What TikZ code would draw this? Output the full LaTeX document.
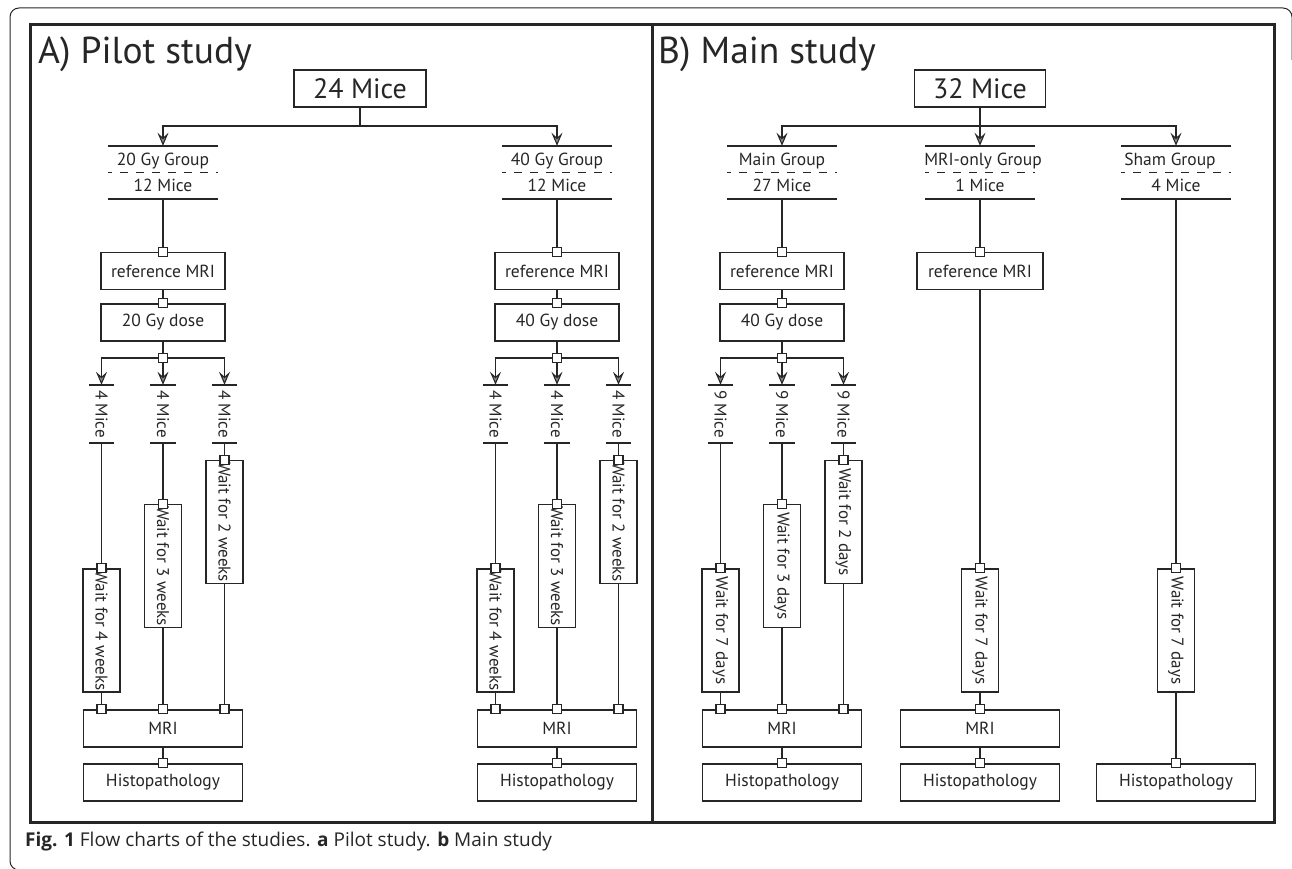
\documentclass[tikz,border=0pt]{standalone}
\usepackage{fontspec}
\setmainfont{PT Sans}
\newfontfamily\capfont{Open Sans}
\usetikzlibrary{arrows.meta}
\definecolor{lc}{HTML}{262626}
\definecolor{ag}{HTML}{8C8C8C}
\newcommand\fsz[1]{\fontsize{#1}{#1}\selectfont}
\tikzset{
  conn/.style={draw=lc, line width=1.7pt},
  arr/.style={conn, -{Stealth[length=13pt,width=11pt,inset=5pt,fill=ag,line width=1.1pt]}},
  box/.style={draw=lc, line width=1.7pt, fill=white, inner sep=0pt, minimum height=37pt, font=\fsz{17.5}, text=lc},
  sq/.style={draw=lc, line width=1.3pt, fill=white, minimum size=9pt, inner sep=0pt},
  lbl/.style={font=\fsz{17.5}, text=lc, inner sep=0pt},
  vlbl/.style={lbl, font=\fsz{17}, rotate=-90},
  frame/.style={inner sep=0pt, minimum width=25pt, minimum height=58pt},
  hdrfr/.style={inner sep=0pt, minimum height=53pt},
  tick/.style={draw=lc, line width=1.7pt},
  dsh/.style={draw=lc, line width=1.7pt, dash pattern=on 8pt off 8pt, dash phase=4pt},
}
\newcommand\hdr[5]{%
  \node[hdrfr, minimum width=110pt] (#1h) at (#2,172.5) {};
  \node[lbl, anchor=base] (#1hn) at ({#2+#5},166) {#3};
  \node[lbl, anchor=base] (#1hc) at (#2,191) {#4};
  \draw[tick] (#1h.north west) -- (#1h.north east);
  \draw[dsh] (#1h.west) -- (#1h.east);
  \draw[tick] (#1h.south west) -- (#1h.south east);
}
\newcommand\trigrp[9]{%
  \hdr{#1}{#2}{#3}{#4}{0}
  \node[box, minimum width=124pt] (#1ref) at (#2,271) {reference MRI};
  \draw[conn] (#1h.south) -- (#1ref.north);
  \node[sq] (#1q0) at (#1ref.north) {};
  \node[box, minimum width=124pt] (#1dose) at (#2,322.5) {#5};
  \draw[conn] (#1ref.south) -- (#1dose.north);
  \node[sq] (#1q1) at (#1dose.north) {};
  \coordinate (#1sp) at (#2,358);
  \draw[conn] (#1dose.south) -- (#1sp);
  \node[box, minimum width=159pt] (#1mri) at (#2,728.5) {MRI};
  \node[box, minimum width=159pt] (#1his) at (#2,782.5) {Histopathology};
  \foreach \i/\dx/\wy/\wt in {1/-61.5/630.5/{#7},2/0/566/{#8},3/61.5/522/{#9}} {
    \node[frame] (#1k\i) at ({#2+\dx},414) {};
    \node[vlbl] (#1t\i) at (#1k\i) {#6};
    \draw[tick] (#1k\i.north west) -- (#1k\i.north east);
    \draw[tick] (#1k\i.south west) -- (#1k\i.south east);
    \draw[arr] (#1sp) -| (#1k\i.north);
    \node[box, minimum width=37pt, minimum height=123pt] (#1w\i) at ({#2+\dx},\wy) {};
    \node[vlbl] (#1wt\i) at (#1w\i) {\wt};
    \draw[conn] (#1k\i.south) -- (#1w\i.north);
    \node[sq] (#1wq\i) at (#1w\i.north) {};
    \draw[conn] (#1w\i.south) -- (#1w\i.south |- #1mri.north);
    \node[sq] (#1mq\i) at (#1w\i.south |- #1mri.north) {};
  }
  \node[sq] (#1sq) at (#1sp) {};
  \draw[conn] (#1mri.south) -- (#1his.north);
  \node[sq] (#1hq) at (#1his.north) {};
}
\begin{document}
\begin{tikzpicture}[x=1pt,y=-1pt]
\useasboundingbox (0,0) rectangle (1292,869);
\begin{scope}
  \clip (0,0) rectangle (1292,869);
  \draw[lc, line width=1pt, rounded corners=9pt] (60,870) -- (10,870) -- (10,8) -- (1292,8) -- (1292,60);
\end{scope}
\draw[lc, line width=3pt] (30,25) rectangle (1274,822);
\draw[lc, line width=3pt] (652,25) -- (652,822);
% titles
\node[anchor=base west, font=\fsz{37.5}, text=lc, inner sep=0pt] (ta) at (38,64) {A) Pilot study};
\node[anchor=base west, font=\fsz{37.5}, text=lc, inner sep=0pt] (tb) at (658,64) {B) Main study};
% top boxes
\node[box, minimum width=132pt, font=\fsz{28}] (m24) at (360,88.5) {24 Mice};
\node[box, minimum width=131pt, font=\fsz{28}] (m32) at (980,88.5) {32 Mice};
% pilot groups
\trigrp{a}{163}{20 Gy Group}{12 Mice}{20 Gy dose}{4 Mice}{Wait for 4 weeks}{Wait for 3 weeks}{Wait for 2 weeks}
\trigrp{b}{557}{40 Gy Group}{12 Mice}{40 Gy dose}{4 Mice}{Wait for 4 weeks}{Wait for 3 weeks}{Wait for 2 weeks}
% main group
\trigrp{e}{782}{Main Group}{27 Mice}{40 Gy dose}{9 Mice}{Wait for 7 days}{Wait for 3 days}{Wait for 2 days}
% MRI-only group
\hdr{c}{980}{MRI-only Group}{1 Mice}{3}
\node[box, minimum width=126pt] (cref) at (980,271) {reference MRI};
\draw[conn] (ch.south) -- (cref.north);
\node[sq] (cq0) at (cref.north) {};
\node[box, minimum width=37pt, minimum height=123pt] (cw) at (980,630.5) {};
\node[vlbl] (cwt) at (cw) {Wait for 7 days};
\draw[conn] (cref.south) -- (cw.north);
\node[sq] (cq1) at (cw.north) {};
\node[box, minimum width=159pt] (cmri) at (980,728.5) {MRI};
\draw[conn] (cw.south) -- (cmri.north);
\node[sq] (cq2) at (cmri.north) {};
\node[box, minimum width=159pt] (chis) at (980,782.5) {Histopathology};
\draw[conn] (cmri.south) -- (chis.north);
\node[sq] (cq3) at (chis.north) {};
% Sham group
\hdr{d}{1176}{Sham Group}{4 Mice}{-6}
\node[box, minimum width=37pt, minimum height=123pt] (dw) at (1176,630.5) {};
\node[vlbl] (dwt) at (dw) {Wait for 7 days};
\draw[conn] (dh.south) -- (dw.north);
\node[sq] (dq1) at (dw.north) {};
\node[box, minimum width=159pt] (dhis) at (1176,782.5) {Histopathology};
\draw[conn] (dw.south) -- (dhis.north);
\node[sq] (dq2) at (dhis.north) {};
% top splits
\coordinate (s24) at (360,126);
\draw[conn] (m24.south) -- (s24);
\draw[arr] (s24) -| (ah.north);
\draw[arr] (s24) -| (bh.north);
\coordinate (s32) at (980,126);
\draw[arr] (m32.south) -- (ch.north);
\draw[arr] (s32) -| (eh.north);
\draw[arr] (s32) -| (dh.north);
% caption
\node[anchor=base west, font=\capfont\fsz{19}, text=lc, inner sep=0pt] (cap) at (25,846) {\textbf{Fig. 1} Flow charts of the studies. \textbf{a} Pilot study. \textbf{b} Main study};
\end{tikzpicture}
\end{document}
